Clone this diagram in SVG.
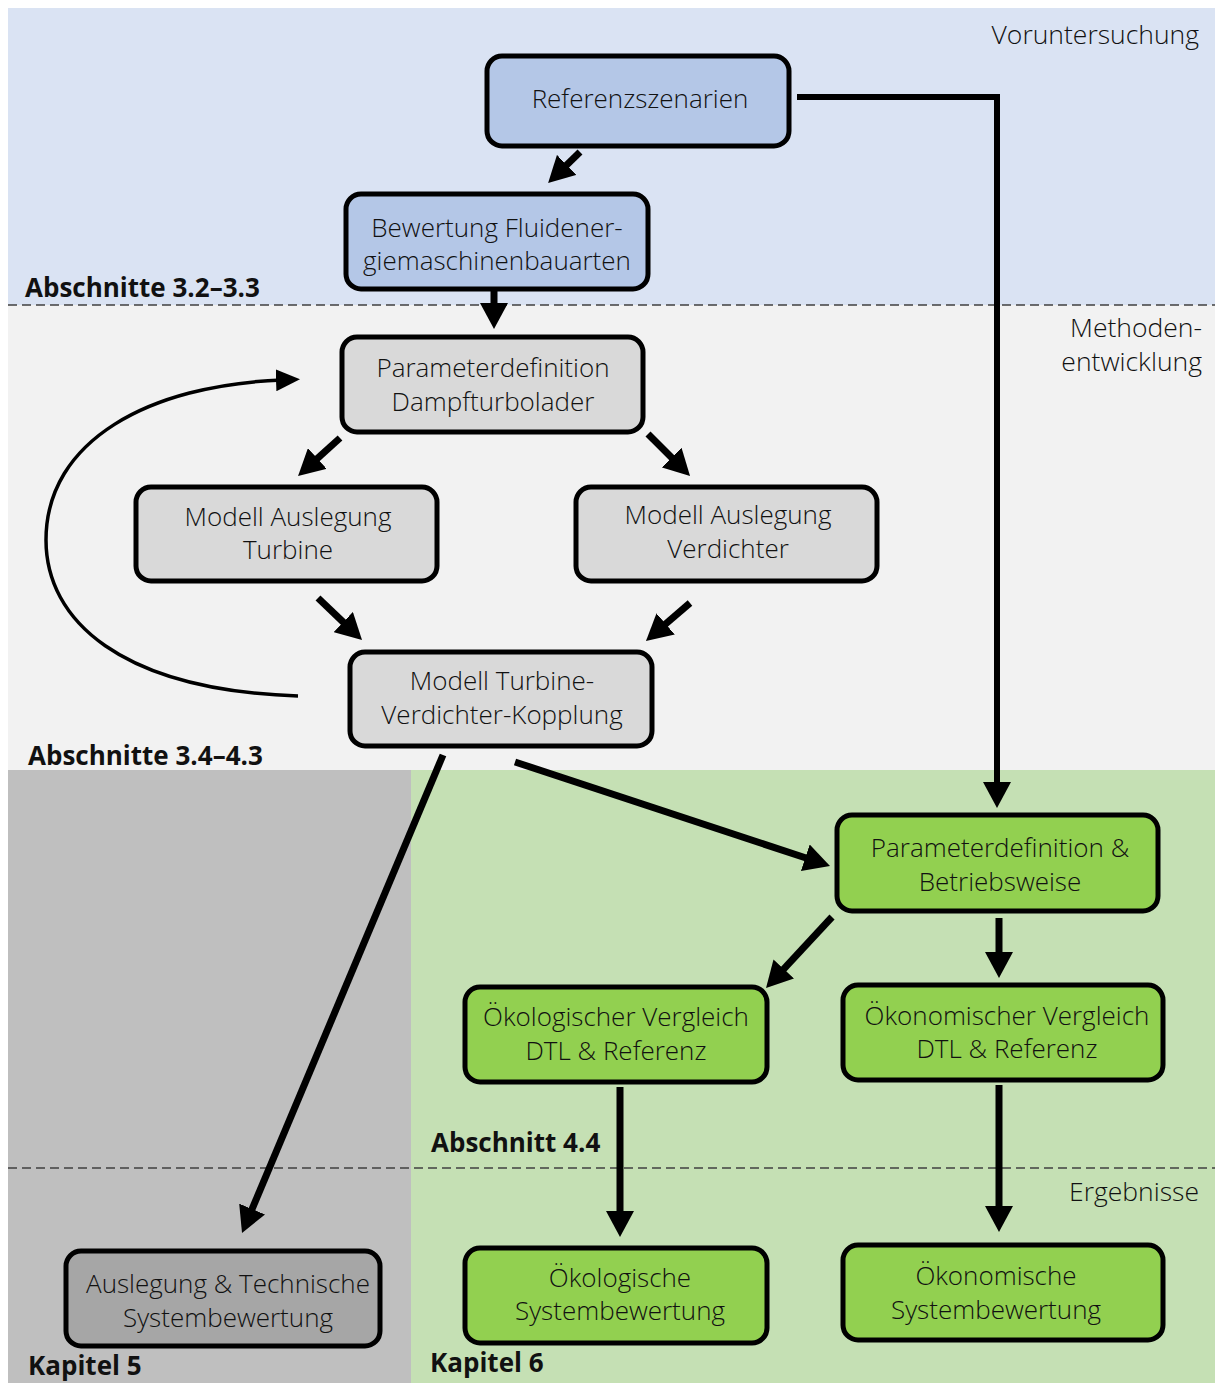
<svg xmlns="http://www.w3.org/2000/svg" width="1215" height="1383" viewBox="0 0 1215 1383">
  <style>
    .node rect { stroke: #000; stroke-width: 5; }
    .blue rect { fill: #b4c7e7; }
    .grey rect { fill: #d9d9d9; }
    .dark rect { fill: #a6a6a6; }
    .green rect { fill: #92d050; }
    .node text { font-family: "Open Sans", "Noto Sans", "DejaVu Sans", sans-serif; font-weight: 300; font-size: 26px; fill: #111; text-anchor: middle; }
    .sec { font-family: "Open Sans", "Noto Sans", "DejaVu Sans", sans-serif; font-weight: 700; font-size: 26px; fill: #111; }
    .phase { font-family: "Open Sans", "Noto Sans", "DejaVu Sans", sans-serif; font-weight: 300; font-size: 26.5px; fill: #111; text-anchor: end; }
    .arrow { fill: none; stroke: #000; stroke-width: 7; marker-end: url(#head); }
    .dash { stroke: #404040; stroke-width: 1.6; stroke-dasharray: 9 5; }
  </style>
  <defs>
    <marker id="head" markerUnits="userSpaceOnUse" markerWidth="26" markerHeight="28" viewBox="0 0 26 28" refX="8" refY="14" orient="auto">
      <path d="M0,0 L26,14 L0,28 z" fill="#000"/>
    </marker>
    <marker id="headThin" markerUnits="userSpaceOnUse" markerWidth="24" markerHeight="22" viewBox="0 0 24 22" refX="6" refY="11" orient="auto">
      <path d="M0,0 L24,11 L0,22 z" fill="#000"/>
    </marker>
  </defs>

  <!-- phase bands -->
  <g id="bands">
    <rect x="0" y="0" width="1215" height="1383" fill="#ffffff"/>
    <rect x="8" y="8" width="1207" height="297" fill="#dae3f3"/>
    <rect x="8" y="305" width="1207" height="465" fill="#f2f2f2"/>
    <rect x="8" y="770" width="403" height="613" fill="#bfbfbf"/>
    <rect x="411" y="770" width="804" height="613" fill="#c5e0b4"/>
    <line class="dash" x1="8" y1="305" x2="1215" y2="305"/>
    <line class="dash" x1="8" y1="1168" x2="1215" y2="1168"/>
  </g>

  <!-- phase and section labels -->
  <g id="labels">
    <text class="phase" x="1199" y="44">Voruntersuchung</text>
    <text class="phase" x="1202" y="337">Methoden-</text>
    <text class="phase" x="1202" y="371">entwicklung</text>
    <text class="phase" x="1199" y="1201">Ergebnisse</text>
    <text class="sec" x="25" y="297">Abschnitte 3.2–3.3</text>
    <text class="sec" x="28" y="765">Abschnitte 3.4–4.3</text>
    <text class="sec" x="431" y="1152">Abschnitt 4.4</text>
    <text class="sec" x="28" y="1375">Kapitel 5</text>
    <text class="sec" x="430" y="1372">Kapitel 6</text>
  </g>

  <!-- connectors -->
  <g id="connectors">
    <line class="arrow" x1="580" y1="152" x2="561" y2="170.5"/>
    <line class="arrow" x1="494" y1="290" x2="494" y2="311"/>
    <path class="arrow" style="stroke-width:6" d="M797,97 H997 V790"/>
    <line class="arrow" x1="340" y1="438" x2="311.4" y2="463.9"/>
    <line class="arrow" x1="648" y1="434" x2="677.3" y2="463.3"/>
    <line class="arrow" x1="318" y1="598" x2="349" y2="627.6"/>
    <line class="arrow" x1="690" y1="603" x2="659.6" y2="629.2"/>
    <path d="M298,696 C120,690 46,620 46,540 C46,440 150,385 282,380" fill="none" stroke="#000" stroke-width="3.5" marker-end="url(#headThin)"/>
    <line class="arrow" x1="443" y1="755" x2="249" y2="1216.4"/>
    <line class="arrow" x1="515" y1="762" x2="812.9" y2="860.3"/>
    <line class="arrow" x1="832" y1="917" x2="778.3" y2="974.8"/>
    <line class="arrow" x1="999" y1="918" x2="999" y2="960"/>
    <line class="arrow" x1="620" y1="1087" x2="620" y2="1219"/>
    <line class="arrow" x1="999" y1="1085" x2="999" y2="1214"/>
  </g>

  <!-- nodes -->
  <g id="referenzszenarien" class="node blue">
    <rect x="487" y="56" width="302" height="90" rx="15"/>
    <text x="640" y="108">Referenzszenarien</text>
  </g>
  <g id="bewertung-fluidenergiemaschinen" class="node blue">
    <rect x="346" y="194" width="302" height="95" rx="15"/>
    <text x="497" y="237">Bewertung Fluidener-</text>
    <text x="497" y="270">giemaschinenbauarten</text>
  </g>
  <g id="parameterdefinition-dtl" class="node grey">
    <rect x="342" y="337" width="301" height="95" rx="15"/>
    <text x="493" y="377">Parameterdefinition</text>
    <text x="493" y="411">Dampfturbolader</text>
  </g>
  <g id="modell-turbine" class="node grey">
    <rect x="136" y="487" width="301" height="94" rx="15"/>
    <text x="288" y="526">Modell Auslegung</text>
    <text x="288" y="559">Turbine</text>
  </g>
  <g id="modell-verdichter" class="node grey">
    <rect x="576" y="487" width="301" height="94" rx="15"/>
    <text x="728" y="524">Modell Auslegung</text>
    <text x="728" y="558">Verdichter</text>
  </g>
  <g id="modell-kopplung" class="node grey">
    <rect x="350" y="652" width="302" height="94" rx="15"/>
    <text x="502" y="690">Modell Turbine-</text>
    <text x="502" y="724">Verdichter-Kopplung</text>
  </g>
  <g id="parameterdefinition-betrieb" class="node green">
    <rect x="837" y="815" width="321" height="96" rx="15"/>
    <text x="1000" y="857">Parameterdefinition &amp;</text>
    <text x="1000" y="891">Betriebsweise</text>
  </g>
  <g id="oekologischer-vergleich" class="node green">
    <rect x="465" y="987" width="302" height="95" rx="15"/>
    <text x="616" y="1026">Ökologischer Vergleich</text>
    <text x="616" y="1060">DTL &amp; Referenz</text>
  </g>
  <g id="oekonomischer-vergleich" class="node green">
    <rect x="843" y="985" width="320" height="95" rx="15"/>
    <text x="1007" y="1025">Ökonomischer Vergleich</text>
    <text x="1007" y="1058">DTL &amp; Referenz</text>
  </g>
  <g id="technische-systembewertung" class="node dark">
    <rect x="66" y="1251" width="314" height="95" rx="15"/>
    <text x="228" y="1293">Auslegung &amp; Technische</text>
    <text x="228" y="1327">Systembewertung</text>
  </g>
  <g id="oekologische-systembewertung" class="node green">
    <rect x="465" y="1248" width="302" height="95" rx="15"/>
    <text x="620" y="1287">Ökologische</text>
    <text x="620" y="1320">Systembewertung</text>
  </g>
  <g id="oekonomische-systembewertung" class="node green">
    <rect x="843" y="1245" width="320" height="95" rx="15"/>
    <text x="996" y="1285">Ökonomische</text>
    <text x="996" y="1319">Systembewertung</text>
  </g>
</svg>
